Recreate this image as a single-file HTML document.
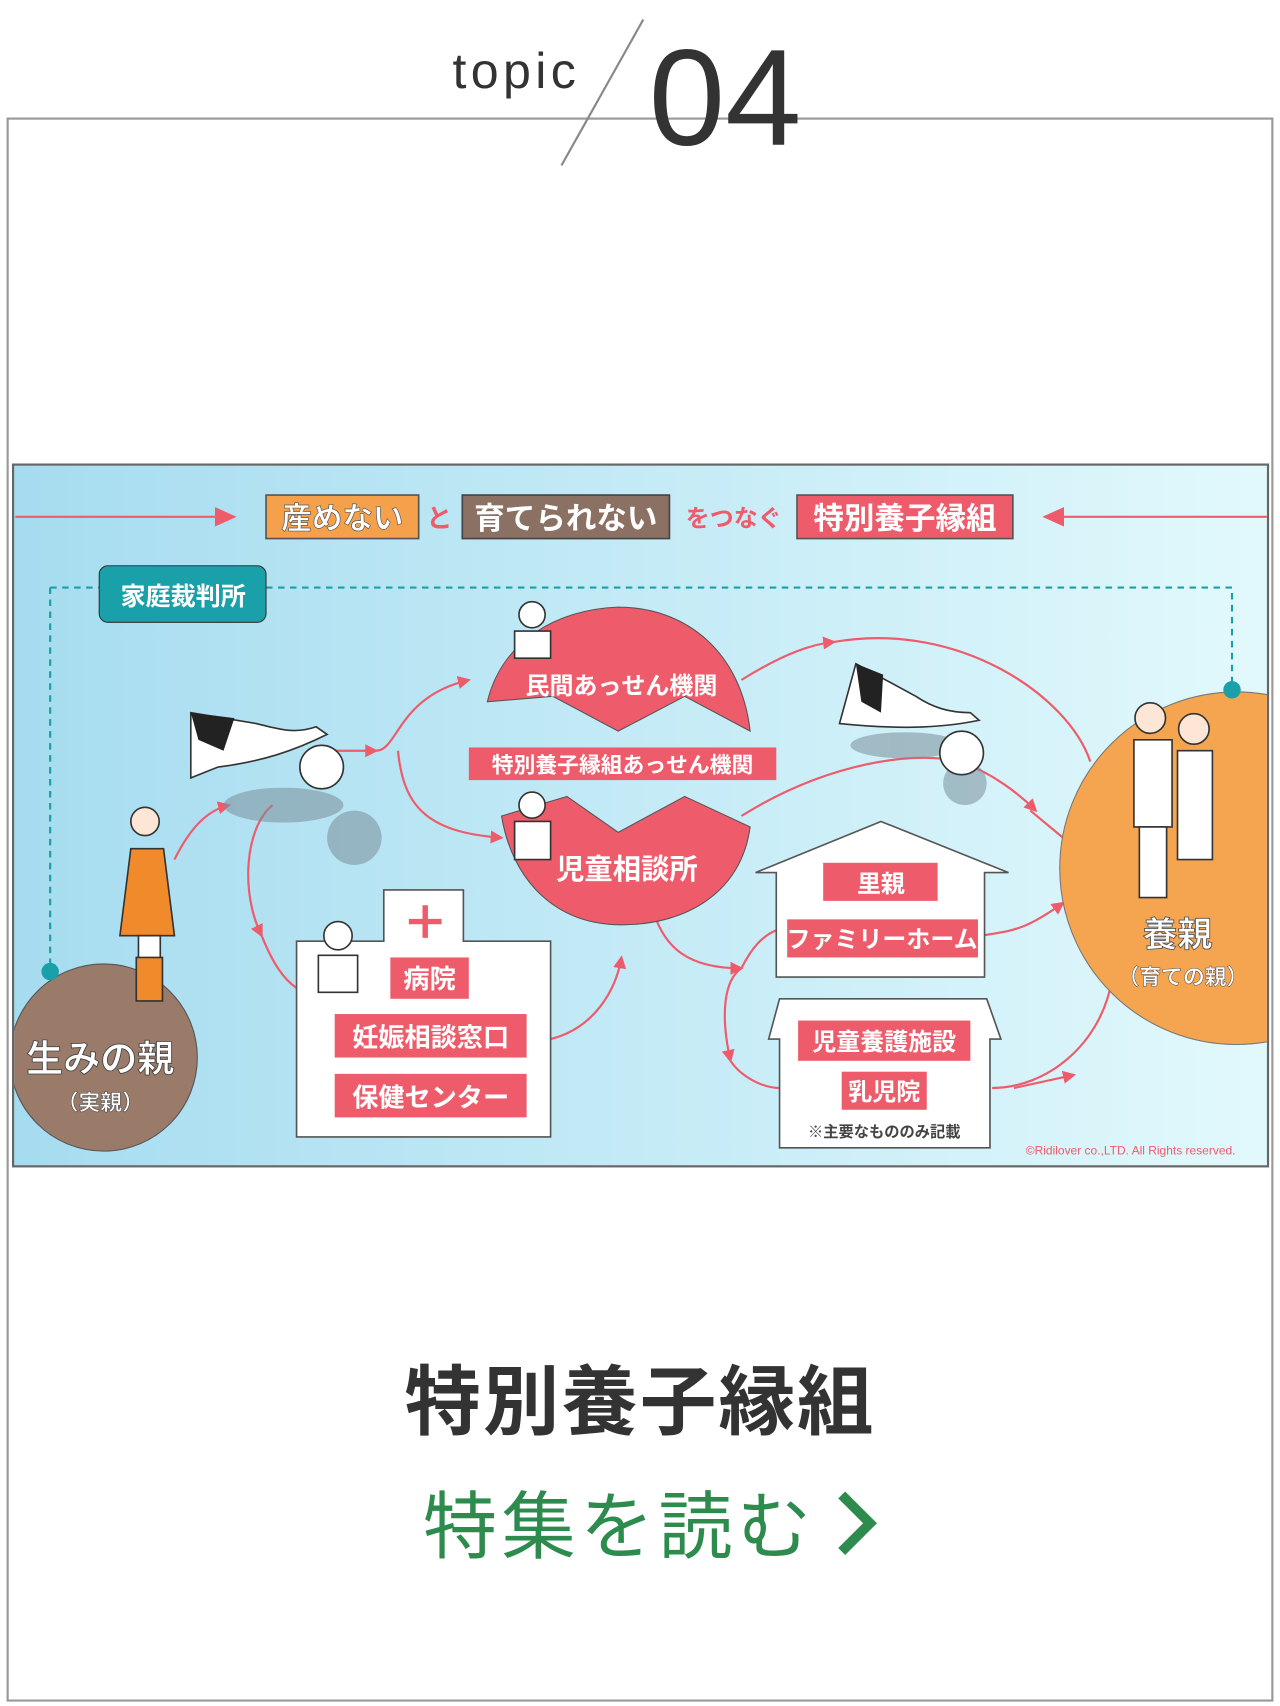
<!DOCTYPE html>
<html><head><meta charset="utf-8"><style>
html,body{margin:0;padding:0;background:#fff;width:1280px;height:1706px;overflow:hidden}
svg{display:block}
text{font-family:"Liberation Sans","Noto Sans CJK JP",sans-serif}
</style></head><body>
<svg width="1280" height="1706" viewBox="0 0 1174 1568" preserveAspectRatio="none" xmlns="http://www.w3.org/2000/svg">
<defs>
<linearGradient id="bg" x1="0" x2="1" y1="0" y2="0"><stop offset="0" stop-color="#a6dcf0"/><stop offset="1" stop-color="#e2f9fc"/></linearGradient>
<clipPath id="dc"><rect x="13" y="428" width="1149" height="643"/></clipPath>
<marker id="ar" markerWidth="12" markerHeight="12" refX="10" refY="6" orient="auto" markerUnits="userSpaceOnUse"><path d="M0,0 L12,6 L0,12 z" fill="#ee5c6c"/></marker>
<marker id="ab" markerWidth="20" markerHeight="18" refX="18" refY="9" orient="auto" markerUnits="userSpaceOnUse"><path d="M0,0 L20,9 L0,18 z" fill="#ee5c6c"/></marker>
</defs>
<rect x="7" y="109" width="1160" height="1454" fill="#fff" stroke="#9a9a9a" stroke-width="2"/>
<text x="415" y="81" font-size="46" fill="#333" letter-spacing="4">topic</text>
<line x1="590" y1="18" x2="515" y2="152" stroke="#888" stroke-width="2"/>
<text x="595" y="133" font-size="126" fill="#333">04</text>

<rect x="12" y="427" width="1151" height="645" fill="url(#bg)" stroke="#666" stroke-width="2"/>
<g clip-path="url(#dc)">
<line x1="14" y1="475" x2="215" y2="475" stroke="#ee5c6c" stroke-width="2" marker-end="url(#ab)"/>
<line x1="1162" y1="475" x2="958" y2="475" stroke="#ee5c6c" stroke-width="2" marker-end="url(#ab)"/>
<rect x="244" y="455" width="140" height="40" fill="#f5a04a" stroke="#555" stroke-width="1.5"/>
<text x="314" y="486" font-size="28" fill="#fff" font-weight="bold" text-anchor="middle" stroke="#555" stroke-width="0.6">産めない</text>
<text x="403" y="485" font-size="24" fill="#ee5c6c" font-weight="bold" text-anchor="middle">と</text>
<rect x="424" y="455" width="190" height="40" fill="#8b7064" stroke="#444" stroke-width="1.5"/>
<text x="519" y="486" font-size="28" fill="#fff" font-weight="bold" text-anchor="middle">育てられない</text>
<text x="673" y="484" font-size="22" fill="#ee5c6c" font-weight="bold" text-anchor="middle">をつなぐ</text>
<rect x="731" y="455" width="198" height="40" fill="#ee5c6c" stroke="#555" stroke-width="1.5"/>
<text x="830" y="486" font-size="28" fill="#fff" font-weight="bold" text-anchor="middle">特別養子縁組</text>

<path d="M46,540 H1130 V634 M46,540 V893" fill="none" stroke="#1aa0a8" stroke-width="2" stroke-dasharray="6,5"/>
<rect x="91" y="520" width="153" height="52" rx="8" fill="#1aa0a8" stroke="#333" stroke-width="1"/>
<text x="168" y="556" font-size="23" fill="#fff" font-weight="bold" text-anchor="middle">家庭裁判所</text>

<g fill="none" stroke="#ee5c6c" stroke-width="2">
<path d="M160,790 C175,760 190,745 210,740" marker-end="url(#ar)"/>
<path d="M305,690 L345,690" marker-end="url(#ar)"/>
<path d="M345,690 C365,690 365,640 430,625" marker-end="url(#ar)"/>
<path d="M365,690 C370,740 390,765 460,770" marker-end="url(#ar)"/>
<path d="M250,740 C225,760 220,820 240,860" marker-end="url(#ar)"/>
<path d="M240,860 C250,885 260,900 272,908"/>
<path d="M505,955 C545,945 565,910 570,880" marker-end="url(#ar)"/>
<path d="M680,625 C720,600 745,592 765,590" marker-end="url(#ar)"/>
<path d="M765,590 C880,570 980,640 1000,700"/>
<path d="M680,750 C760,700 840,690 880,700 C910,710 935,730 950,745" marker-end="url(#ar)"/>
<path d="M945,745 L975,770"/>
<path d="M600,840 C610,870 630,890 680,890" marker-end="url(#ar)"/>
<path d="M680,890 C665,900 660,930 670,975" marker-end="url(#ar)"/>
<path d="M670,975 C680,990 700,1000 715,1000"/>
<path d="M680,890 C690,870 700,860 712,855"/>
<path d="M900,860 C930,855 940,855 975,830" marker-end="url(#ar)"/>
<path d="M910,1000 C960,1000 1010,960 1020,900" />
<path d="M930,1000 L985,988" marker-end="url(#ar)"/>
</g>

<circle cx="95" cy="972" r="86" fill="#9a7b6a" stroke="#555" stroke-width="1"/>
<text x="92" y="985" font-size="34" fill="#fff" font-weight="bold" text-anchor="middle" stroke="#444" stroke-width="0.8">生みの親</text>
<text x="92" y="1020" font-size="20" fill="#fff" font-weight="bold" text-anchor="middle" stroke="#444" stroke-width="0.5">（実親）</text>
<circle cx="1134" cy="798" r="162" fill="#f5a550" stroke="#777" stroke-width="1"/>
<text x="1080" y="870" font-size="32" fill="#fff" font-weight="bold" text-anchor="middle" stroke="#555" stroke-width="0.8">養親</text>
<text x="1085" y="905" font-size="20" fill="#fff" font-weight="bold" text-anchor="middle" stroke="#555" stroke-width="0.5">（育ての親）</text>
<circle cx="46" cy="893" r="8" fill="#1aa0a8"/>
<circle cx="1130" cy="634" r="8" fill="#1aa0a8"/>

<path d="M447,645 C460,590 510,560 567,558 C630,558 680,600 688,672 L628,640 L567,672 L507,640 Z" fill="#ee5c6c" stroke="#555" stroke-width="1"/>
<text x="570" y="638" font-size="22" fill="#fff" font-weight="bold" text-anchor="middle">民間あっせん機関</text>
<rect x="430" y="687" width="282" height="30" fill="#ee5c6c"/>
<text x="571" y="710" font-size="20" fill="#fff" font-weight="bold" text-anchor="middle">特別養子縁組あっせん機関</text>
<path d="M460,750 L520,732 L567,765 L628,732 L688,760 C680,820 630,850 570,850 C510,850 470,810 460,750 Z" fill="#ee5c6c" stroke="#555" stroke-width="1"/>
<text x="575" y="808" font-size="26" fill="#fff" font-weight="bold" text-anchor="middle">児童相談所</text>

<path d="M352,865 V818 H425 V865 H505 V1045 H272 V865 Z" fill="#fff" stroke="#555" stroke-width="1.5"/>
<path d="M390,832 V862 M375,847 H405" stroke="#ee5c6c" stroke-width="5"/>
<rect x="358" y="880" width="72" height="38" fill="#ee5c6c"/>
<text x="394" y="908" font-size="24" fill="#fff" font-weight="bold" text-anchor="middle">病院</text>
<rect x="307" y="932" width="176" height="40" fill="#ee5c6c"/>
<text x="395" y="962" font-size="24" fill="#fff" font-weight="bold" text-anchor="middle">妊娠相談窓口</text>
<rect x="307" y="987" width="176" height="40" fill="#ee5c6c"/>
<text x="395" y="1017" font-size="24" fill="#fff" font-weight="bold" text-anchor="middle">保健センター</text>

<path d="M693,802 L808,755 L925,802 L903,802 V898 H712 V802 Z" fill="#fff" stroke="#555" stroke-width="1.5"/>
<rect x="755" y="793" width="105" height="35" fill="#ee5c6c"/>
<text x="808" y="820" font-size="22" fill="#fff" font-weight="bold" text-anchor="middle">里親</text>
<rect x="722" y="845" width="175" height="35" fill="#ee5c6c"/>
<text x="809" y="871" font-size="22" fill="#fff" font-weight="bold" text-anchor="middle">ファミリーホーム</text>
<path d="M705,955 L715,918 H905 L918,955 H908 V1055 H715 V955 Z" fill="#fff" stroke="#555" stroke-width="1.5"/>
<rect x="732" y="938" width="158" height="37" fill="#ee5c6c"/>
<text x="811" y="965" font-size="22" fill="#fff" font-weight="bold" text-anchor="middle">児童養護施設</text>
<rect x="772" y="985" width="78" height="35" fill="#ee5c6c"/>
<text x="811" y="1011" font-size="22" fill="#fff" font-weight="bold" text-anchor="middle">乳児院</text>
<text x="811" y="1045" font-size="14" fill="#444" font-weight="bold" text-anchor="middle">※主要なもののみ記載</text>
<text x="1037" y="1061" font-size="11" fill="#ee5c6c" text-anchor="middle">©Ridilover co.,LTD. All Rights reserved.</text>

<g fill="#7a8f9a" opacity="0.55"><ellipse cx="260" cy="740" rx="55" ry="16"/><circle cx="325" cy="770" r="25"/></g>
<path d="M175,655 L235,665 C255,670 270,675 290,668 L300,675 C270,690 240,700 200,705 L175,715 Z" fill="#fff" stroke="#333" stroke-width="1.5"/>
<path d="M175,655 L215,660 L205,690 L182,680 Z" fill="#222"/>
<circle cx="295" cy="705" r="20" fill="#fff" stroke="#333" stroke-width="1.5"/>
<g fill="#7a8f9a" opacity="0.55"><ellipse cx="830" cy="685" rx="50" ry="12"/><circle cx="885" cy="720" r="20"/></g>
<path d="M785,610 L840,640 C855,650 870,655 890,655 L898,662 C860,670 820,670 770,665 Z" fill="#fff" stroke="#333" stroke-width="1.5"/>
<path d="M785,610 L810,620 L808,655 L790,645 Z" fill="#222"/>
<circle cx="882" cy="692" r="20" fill="#fff" stroke="#333" stroke-width="1.5"/>

<g stroke="#333" stroke-width="1.5">
<circle cx="133" cy="755" r="13" fill="#fde6d6"/>
<path d="M120,780 H150 L160,860 H110 Z" fill="#f08a2a"/>
<rect x="127" y="860" width="20" height="55" fill="#fff"/>
<rect x="125" y="880" width="24" height="40" fill="#f08a2a"/>
<circle cx="1055" cy="660" r="14" fill="#fde6d6"/>
<path d="M1040,680 H1075 V760 H1040 Z" fill="#fff"/>
<path d="M1045,760 H1070 V825 H1045 Z" fill="#fff"/>
<circle cx="1095" cy="670" r="14" fill="#fde6d6"/>
<path d="M1080,690 H1112 V790 H1080 Z" fill="#fff"/>
<circle cx="488" cy="565" r="12" fill="#fff"/>
<path d="M472,580 H505 V605 H472 Z" fill="#fff"/>
<circle cx="488" cy="740" r="12" fill="#fff"/>
<path d="M472,755 H505 V790 H472 Z" fill="#fff"/>
<circle cx="310" cy="860" r="13" fill="#fff"/>
<path d="M292,878 H328 V912 H292 Z" fill="#fff"/>
</g>
</g>

<text x="587" y="1313" font-size="70" fill="#333" font-weight="bold" text-anchor="middle" letter-spacing="2">特別養子縁組</text>
<text x="568" y="1427" font-size="68" fill="#2e8b4e" text-anchor="middle" letter-spacing="4">特集を読む</text>
<path d="M772,1374 L798,1400 L772,1426" fill="none" stroke="#2e8b4e" stroke-width="9"/>
</svg>
</body></html>
